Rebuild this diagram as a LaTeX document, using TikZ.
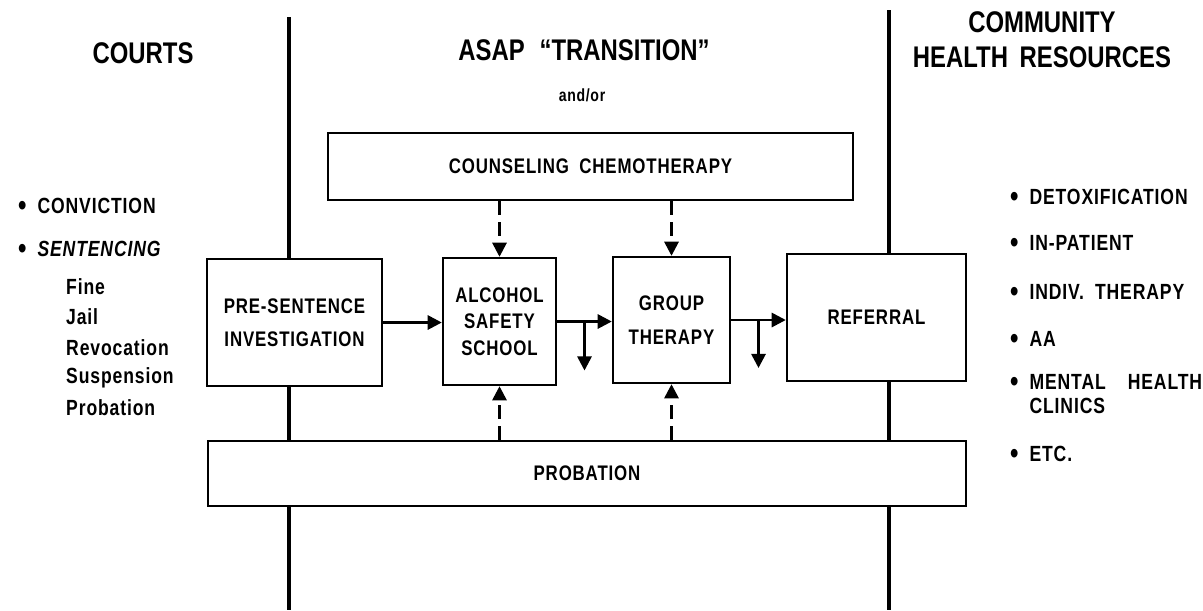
\documentclass[tikz,border=0pt]{standalone}
\usepackage{fontspec}
\setmainfont{Liberation Sans}
\newfontfamily\hdfont[FakeStretch=0.8]{Liberation Sans}
\newfontfamily\lbfont[FakeStretch=0.8,LetterSpace=4]{Liberation Sans}
\usetikzlibrary{arrows.meta}
\newcommand{\dotitem}{\makebox[11pt][l]{\fontsize{17}{17}\selectfont\raisebox{-1.2pt}{\textbullet}}}

\begin{document}
\begin{tikzpicture}[x=0.02cm,y=-0.02cm,
  box/.style={draw,line width=1.4pt,fill=white,inner sep=0pt,align=center,
    font=\lbfont\bfseries\fontsize{12}{15}\selectfont},
  flow/.style={line width=1.5pt,-{Triangle[length=8pt,width=8pt]}},
  dflow/.style={flow,dash pattern=on 8pt off 4pt},
  divider/.style={line width=2pt},
  head/.style={font=\hdfont\bfseries\fontsize{17}{20}\selectfont,align=center},
  item/.style={anchor=west,align=left,font=\lbfont\bfseries\fontsize{12.5}{14}\selectfont}]
  \useasboundingbox (0,0) rectangle (1203,610);

  \coordinate (ltop) at (289,17);
  \coordinate (lbot) at (289,610);
  \coordinate (rtop) at (889,10);
  \coordinate (rbot) at (889,610);
  \draw[divider] (ltop) -- (lbot);
  \draw[divider] (rtop) -- (rbot);

  \node (courts) [head] at (143,53) {COURTS};
  \node (asap) [head] at (584,50) {ASAP\enspace “TRANSITION”};
  \node (andor) [item,anchor=center,font=\lbfont\bfseries\fontsize{10}{10}\selectfont]
    at (582,95) {and/or};
  \node (chr) [head] at (1042,40) {COMMUNITY\\HEALTH\ \,RESOURCES};

  \node (couns) [box,minimum width=10.5cm,minimum height=1.34cm] at (590.5,166.5)
    {COUNSELING\enspace CHEMOTHERAPY};
  \node (pre) [box,minimum width=3.5cm,minimum height=2.54cm,
    font=\lbfont\bfseries\fontsize{12}{19}\selectfont] at (294.5,322.5)
    {PRE-SENTENCE\\INVESTIGATION};
  \node (alc) [box,minimum width=2.26cm,minimum height=2.54cm] at (499.5,321.5)
    {ALCOHOL\\SAFETY\\SCHOOL};
  \node (grp) [box,minimum width=2.34cm,minimum height=2.52cm,
    font=\lbfont\bfseries\fontsize{12}{19}\selectfont] at (671.5,320)
    {GROUP\\THERAPY};
  \node (ref) [box,minimum width=3.58cm,minimum height=2.54cm] at (876.5,317.5)
    {REFERRAL};
  \node (prob) [box,minimum width=15.16cm,minimum height=1.3cm] at (587,473.5)
    {PROBATION};

  \draw[flow] (pre.east) -- (alc.west |- pre.east);
  \draw[flow] (alc.east) -- (grp.west |- alc.east);
  \draw[flow] (grp.east) -- (ref.west |- grp.east);
  \path (alc.east) -- (grp.west |- alc.east) coordinate[midway] (outa);
  \path (grp.east) -- (ref.west |- grp.east) coordinate[midway] (outg);
  \draw[flow] (outa) -- ++(0,49);
  \draw[flow] (outg) -- ++(0,48);

  \draw[dflow] (alc.north |- couns.south) -- (alc.north);
  \draw[dflow] (grp.north |- couns.south) -- (grp.north);
  \draw[dflow] (alc.south |- prob.north) -- (alc.south);
  \draw[dflow] (grp.south |- prob.north) -- (grp.south);

  \node (conv) [item] at (12,207) {\dotitem CONVICTION};
  \node (sent) [item] at (12,250) {\dotitem\itshape SENTENCING};
  \node (fine) [item] at (60,287) {Fine};
  \node (jail) [item] at (60,317) {Jail};
  \node (revo) [item] at (60,348) {Revocation};
  \node (susp) [item] at (60,378) {Suspension};
  \node (prbt) [item] at (60,408) {Probation};

  \node (detox) [item] at (1004,198) {\dotitem DETOXIFICATION};
  \node (inpat) [item] at (1004,244) {\dotitem IN-PATIENT};
  \node (indiv) [item] at (1004,293) {\dotitem INDIV.\enspace THERAPY};
  \node (aa) [item] at (1004,340) {\dotitem AA};
  \node (mental) [item] at (1004,394) {\dotitem MENTAL\quad HEALTH\\\hspace*{11pt}CLINICS};
  \node (etc) [item] at (1004,455) {\dotitem ETC.};
\end{tikzpicture}
\end{document}
